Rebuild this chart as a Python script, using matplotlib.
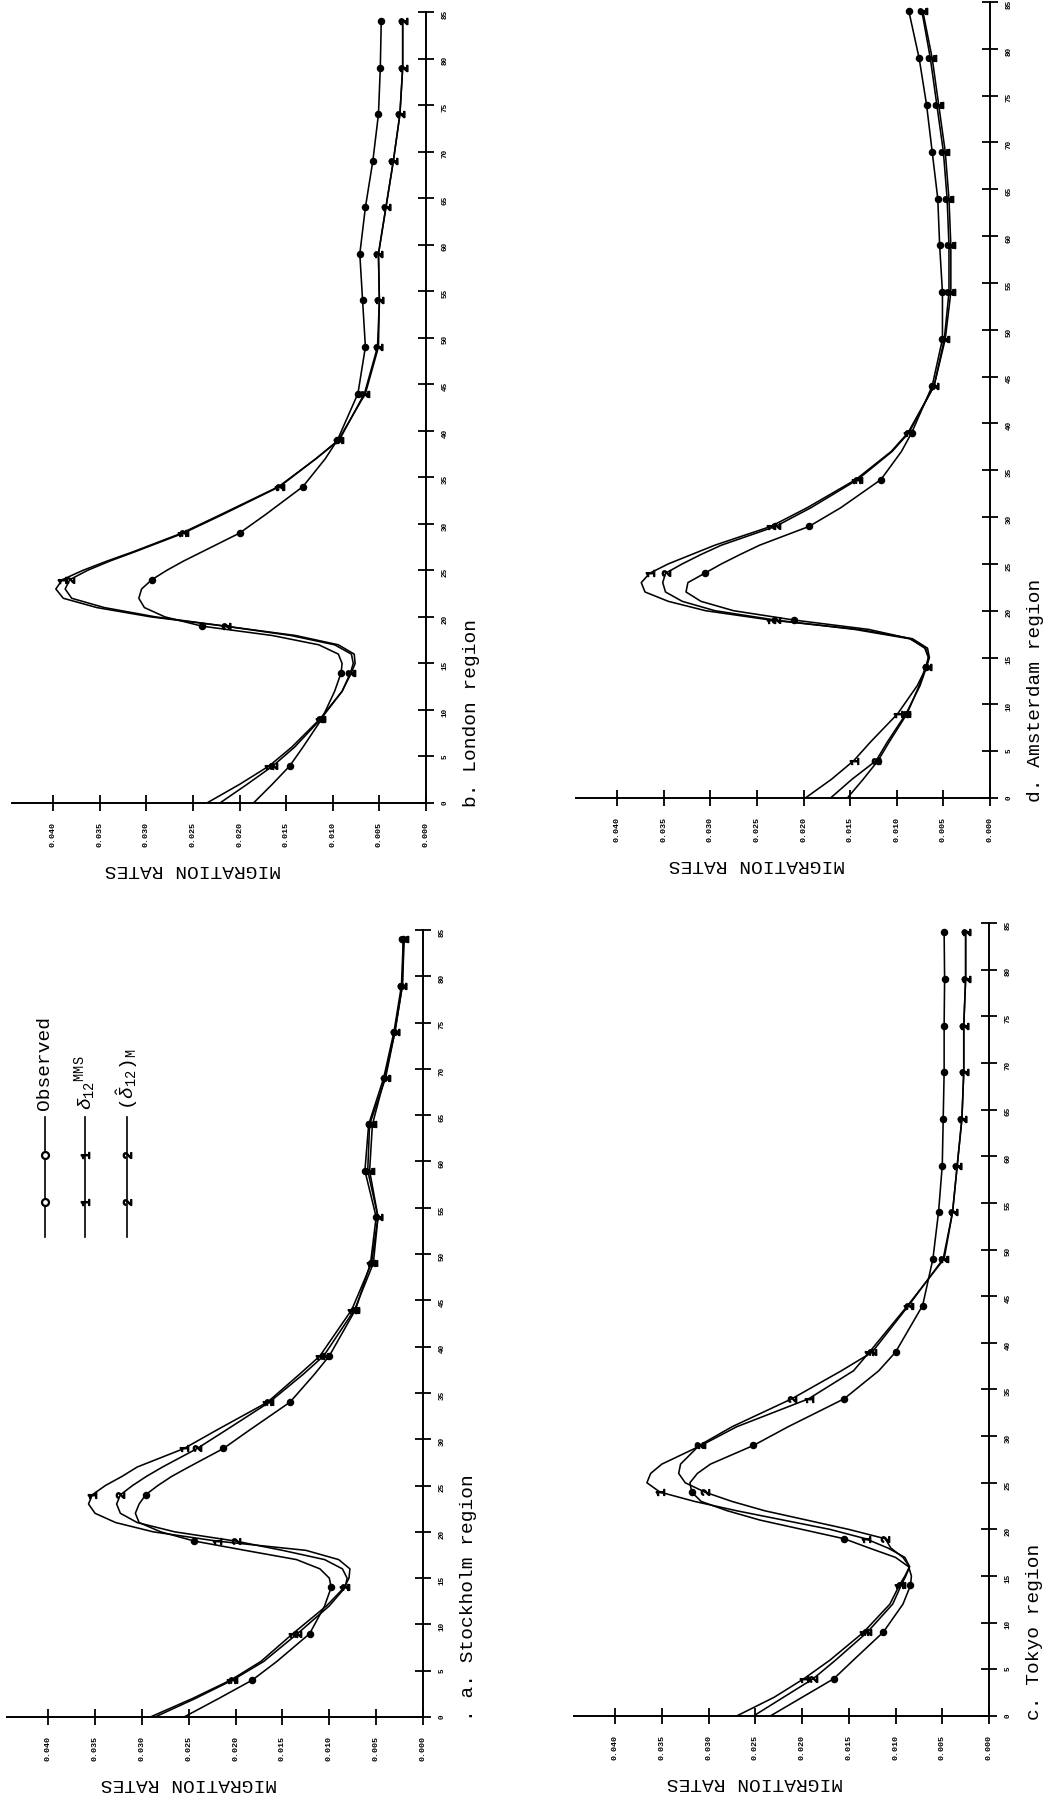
import matplotlib
matplotlib.use("Agg")  # headless
import matplotlib.pyplot as plt
from matplotlib.markers import MarkerStyle
from matplotlib.transforms import Affine2D

W, H = 1048, 1797
MONO = "Liberation Mono"

plt.rcParams["mathtext.fontset"] = "custom"
plt.rcParams["mathtext.rm"] = MONO
plt.rcParams["mathtext.it"] = MONO + ":italic"
plt.rcParams["mathtext.bf"] = MONO + ":bold"

AGES = [0, 2, 4, 6, 9, 12, 14, 15, 16, 17, 18, 19, 20, 21, 22, 23, 24, 25, 26,
        27, 29, 31, 34, 37, 39, 44, 49, 54, 59, 64, 69, 74, 79, 84]
MARK_AGES = [4, 9, 14, 19, 24, 29, 34, 39, 44, 49, 54, 59, 64, 69, 74, 79, 84]
RATE_TICKS = [0.000, 0.005, 0.010, 0.015, 0.020, 0.025, 0.030, 0.035, 0.040]
AGE_TICKS = [0, 5, 10, 15, 20, 25, 30, 35, 40, 45, 50, 55, 60, 65, 70, 75, 80, 85]
RATE_UNIT = 0.001  # series below are in thousandths

# a. Stockholm
STO_OBS = [25.5, 21.8, 18.2, 15.6, 12.1, 10.5, 9.8, 10.0, 11.0, 13.5, 19.0, 24.4, 28.0,
           30.3, 30.7, 30.3, 29.6, 28.3, 26.8, 25.0, 21.3, 18.5, 14.2, 11.6, 10.0, 7.2,
           5.6, 5.0, 6.2, 5.8, 4.2, 3.1, 2.3, 2.1]
STO_MMS = [29.1, 24.6, 20.5, 17.3, 13.9, 10.3, 8.4, 7.9, 7.8, 9.0, 12.5, 22.0, 28.8,
           32.8, 35.0, 35.7, 35.3, 33.9, 32.1, 30.5, 25.5, 22.0, 16.6, 13.2, 11.0, 7.6,
           5.5, 4.8, 5.7, 5.4, 4.1, 3.0, 2.2, 2.0]
STO_M = [28.6, 24.3, 20.3, 17.0, 13.4, 10.0, 8.3, 8.1, 8.6, 10.5, 15.0, 20.0, 26.5,
         30.5, 32.3, 32.7, 32.3, 31.0, 29.5, 27.8, 24.1, 21.0, 16.4, 12.8, 10.6, 7.3,
         5.3, 4.8, 5.9, 5.7, 4.0, 3.0, 2.2, 2.1]

# b. London
LON_OBS = [18.5, 16.5, 14.6, 13.2, 11.2, 9.8, 9.1, 9.0, 9.4, 11.5, 16.5, 24.0, 28.0,
           30.2, 30.8, 30.5, 29.4, 27.8, 26.0, 24.0, 20.0, 17.2, 13.2, 10.8, 9.5, 7.3,
           6.5, 6.8, 7.1, 6.5, 5.7, 5.1, 4.9, 4.8]
LON_MMS = [23.5, 20.0, 16.8, 14.4, 11.4, 9.0, 8.0, 7.6, 7.7, 9.4, 14.0, 21.5, 29.5,
           35.3, 38.9, 39.7, 39.0, 36.8, 34.2, 31.4, 26.2, 22.0, 15.8, 11.8, 9.4, 6.5,
           5.1, 5.0, 5.1, 4.3, 3.5, 2.8, 2.5, 2.5]
LON_M = [22.1, 19.2, 16.4, 14.1, 11.3, 9.0, 8.1, 7.8, 8.0, 9.8, 14.5, 21.5, 29.0,
         34.5, 38.0, 38.7, 38.2, 36.3, 33.9, 31.2, 26.0, 21.8, 15.7, 11.8, 9.3, 6.6,
         5.2, 5.0, 5.1, 4.3, 3.5, 2.8, 2.5, 2.5]

# c. Tokyo
TOK_OBS = [23.4, 20.0, 16.6, 14.5, 11.3, 9.2, 8.4, 8.3, 8.6, 10.0, 12.8, 15.5, 20.0,
           24.5, 28.0, 30.8, 31.8, 32.0, 31.2, 29.8, 25.2, 21.5, 15.5, 11.8, 10.0, 7.1,
           6.0, 5.4, 5.0, 4.9, 4.8, 4.8, 4.75, 4.8]
TOK_MMS = [27.0, 23.0, 19.8, 17.0, 13.4, 10.6, 9.6, 9.0, 8.5, 9.0, 10.8, 13.2, 17.0,
           22.0, 27.0, 31.5, 35.2, 36.6, 36.2, 35.0, 30.8, 27.0, 19.3, 14.5, 12.8, 8.7,
           4.8, 3.9, 3.4, 2.9, 2.7, 2.7, 2.5, 2.5]
TOK_M = [25.2, 22.0, 18.8, 16.4, 13.0, 10.3, 9.4, 8.9, 8.5, 9.2, 10.5, 11.1, 15.0,
         19.5, 24.0, 27.5, 30.4, 32.5, 33.2, 33.0, 31.0, 27.5, 21.1, 15.8, 12.5, 8.6,
         4.9, 3.9, 3.4, 2.9, 2.7, 2.7, 2.5, 2.5]

# d. Amsterdam
AMS_OBS = [15.3, 13.6, 12.0, 10.8, 8.9, 7.6, 6.9, 6.6, 7.0, 8.5, 13.0, 21.0, 27.5,
           31.0, 32.6, 32.4, 30.6, 28.8, 26.8, 24.7, 19.4, 16.0, 11.7, 9.5, 8.4, 6.2,
           5.1, 5.1, 5.4, 5.6, 6.2, 6.8, 7.6, 8.7]
AMS_MMS = [19.8, 17.0, 14.6, 12.8, 9.9, 7.8, 6.8, 6.5, 6.7, 8.3, 14.0, 23.5, 30.5,
           34.5, 37.0, 37.4, 36.5, 34.5, 32.0, 29.5, 23.5, 19.6, 14.4, 10.6, 8.8, 6.0,
           4.8, 4.2, 4.2, 4.4, 4.8, 5.5, 6.2, 7.2]
AMS_M = [17.1, 14.8, 12.2, 11.0, 9.0, 7.5, 6.8, 6.6, 6.9, 8.6, 14.5, 23.0, 29.5,
         33.0, 34.8, 35.1, 34.8, 33.0, 31.0, 28.8, 23.0, 19.2, 14.2, 10.5, 8.7, 6.0,
         4.9, 4.4, 4.4, 4.6, 5.0, 5.7, 6.4, 7.3]

# panel boxes in pixels: left, top, right (rate 0), bottom (age 0)
PANELS = [
    ("b. London region", (12, 12, 426, 803), LON_OBS, LON_MMS, LON_M),
    ("d. Amsterdam region", (576, 2, 990, 798), AMS_OBS, AMS_MMS, AMS_M),
    (". a. Stockholm region", (7, 930, 423, 1717), STO_OBS, STO_MMS, STO_M),
    ("c. Tokyo region", (574, 923, 989, 1716), TOK_OBS, TOK_MMS, TOK_M),
]

# whole page is turned 90 degrees, so the "1"/"2" symbols are too
MK_OBS = dict(marker="o", ms=4.2, mfc="black", mec="black", mew=1.2)
MK_KEY = dict(marker="o", ms=5, mfc="white", mec="black", mew=1.6)
MK_1 = dict(marker=MarkerStyle("$1$", transform=Affine2D().rotate_deg(90)), ms=6)
MK_2 = dict(marker=MarkerStyle("$2$", transform=Affine2D().rotate_deg(90)), ms=6)

fig = plt.figure(figsize=(W / 100, H / 100), dpi=100)
mark_idx = [AGES.index(a) for a in MARK_AGES]

for label, (l, t, r, b), obs, mms, mdl in PANELS:
    ax = fig.add_axes([l / W, 1 - b / H, (r - l) / W, (b - t) / H])
    for series, mk in ((obs, MK_OBS), (mms, MK_1), (mdl, MK_2)):
        ax.plot([v * RATE_UNIT for v in series], AGES, color="black", lw=1.15,
                markevery=mark_idx, **mk)

    ax.set_xlim(0.0444, 0)
    ax.set_ylim(0, 85)
    for side in ("top", "left"):
        ax.spines[side].set_visible(False)
    for side in ("bottom", "right"):
        ax.spines[side].set_linewidth(1.4)
    ax.xaxis.set_ticks_position("bottom")
    ax.yaxis.set_ticks_position("right")
    ax.set_xticks(RATE_TICKS)
    ax.set_xticklabels([f"{v:.3f}" for v in RATE_TICKS])
    ax.set_yticks(AGE_TICKS)
    ax.set_yticklabels([str(a) for a in AGE_TICKS])
    ax.tick_params(axis="x", direction="inout", length=11, width=1.3, pad=8,
                   labelrotation=90, labelsize=6)
    ax.tick_params(axis="y", direction="inout", length=12, width=1.3, pad=5,
                   labelrotation=90, labelsize=5.5)
    for lbl in ax.get_xticklabels() + ax.get_yticklabels():
        lbl.set_fontweight("bold")
        lbl.set_family(MONO)

    ax.annotate("MIGRATION RATES", xy=(0.025, 0), xytext=(0, -48),
                textcoords="offset points", rotation=180, ha="center", va="center",
                family=MONO, fontsize=14, annotation_clip=False)
    ax.annotate(label, xy=(0, 0), xytext=(33, -3), textcoords="offset points",
                rotation=90, ha="center", va="bottom", family=MONO, fontsize=14,
                annotation_clip=False)

    if label.endswith("Stockholm region"):
        # hand-drawn key, turned like the rest of the page
        keys = [
            (0.091, MK_KEY, "Observed"),
            (0.1875, MK_1, r"$\delta_{12}{}^{\mathrm{MMS}}$"),
            (0.288, MK_2, r"$(\hat{\delta}_{12})_{\mathrm{M}}$"),
        ]
        for kx, mk, txt in keys:
            ax.plot([kx, kx, kx, kx], [0.610, 0.654, 0.714, 0.762], color="black",
                    lw=1.2, markevery=[1, 2], transform=ax.transAxes,
                    clip_on=False, **mk)
            ax.text(kx, 0.771, txt, transform=ax.transAxes, rotation=90,
                    ha="center", va="bottom", family=MONO, fontsize=14)

fig.savefig("out.png", dpi=100, facecolor="white")
plt.close(fig)
